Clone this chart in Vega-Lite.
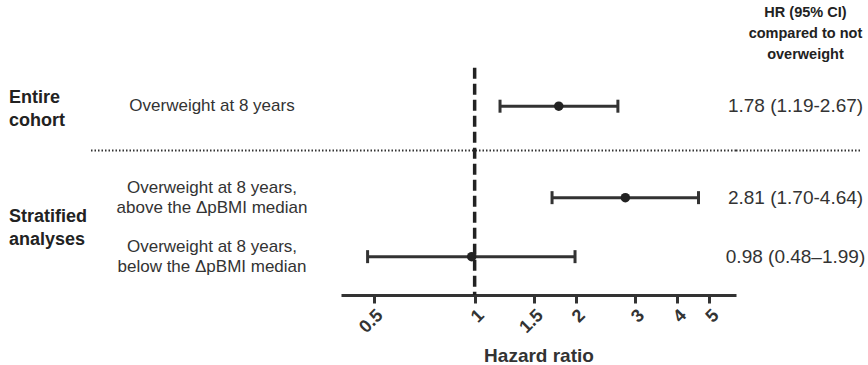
{
  "$schema": "https://vega.github.io/schema/vega-lite/v6.json",
  "padding": {"left": 0, "top": 0, "right": 8, "bottom": 0},
  "autosize": {"type": "pad"},
  "spacing": 0,
  "bounds": "flush",
  "config": {
    "view": {"stroke": null},
    "font": "Liberation Sans",
    "text": {"font": "Liberation Sans", "color": "#333"}
  },
  "datasets": {
    "rows": [
      {"label": "Overweight at 8 years", "hr": 1.78, "lo": 1.19, "hi": 2.67, "txt": "1.78 (1.19-2.67)", "pos": 3.6},
      {"label": ["Overweight at 8 years,", "above the ΔpBMI median"], "hr": 2.81, "lo": 1.70, "hi": 4.64, "txt": "2.81 (1.70-4.64)", "pos": 6.7},
      {"label": ["Overweight at 8 years,", "below the ΔpBMI median"], "hr": 0.98, "lo": 0.48, "hi": 1.99, "txt": "0.98 (0.48–1.99)", "pos": 8.7}
    ],
    "groups": [
      {"group": ["Entire", "cohort"], "pos": 3.72},
      {"group": ["Stratified", "analyses"], "pos": 7.74}
    ],
    "divider": [{"pos": 5.1}],
    "ref": [{"x": 1, "y0": 2.3, "y1": 10}],
    "header": [{"text": ["HR (95% CI)", "compared to not", "overweight"], "pos": 0.2}]
  },
  "hconcat": [
    {
      "width": 90,
      "height": 295,
      "data": {"name": "groups"},
      "mark": {"type": "text", "align": "left", "baseline": "middle", "fontSize": 18, "fontWeight": "bold", "lineHeight": 23, "dy": -11.5, "color": "#222"},
      "encoding": {
        "x": {"datum": 0.1, "type": "quantitative", "scale": {"domain": [0, 1]}, "axis": null},
        "y": {"field": "pos", "type": "quantitative", "scale": {"domain": [0, 10], "reverse": true, "nice": false}, "axis": null},
        "text": {"field": "group"}
      }
    },
    {
      "width": 251,
      "height": 295,
      "encoding": {
        "y": {"field": "pos", "type": "quantitative", "scale": {"domain": [0, 10], "reverse": true, "nice": false}, "axis": null}
      },
      "layer": [
        {
          "data": {"name": "divider"},
          "mark": {"type": "rule", "strokeDash": [1.5, 2], "strokeWidth": 2, "color": "#333"},
          "encoding": {}
        },
        {
          "data": {"name": "rows"},
          "transform": [{"filter": "!isArray(datum.label)"}],
          "mark": {"type": "text", "align": "center", "baseline": "middle", "fontSize": 17},
          "encoding": {
            "x": {"datum": 0.486, "type": "quantitative", "scale": {"domain": [0, 1]}, "axis": null},
            "text": {"field": "label"}
          }
        },
        {
          "data": {"name": "rows"},
          "transform": [{"filter": "isArray(datum.label)"}],
          "mark": {"type": "text", "align": "center", "baseline": "middle", "fontSize": 17, "lineHeight": 20, "dy": -10},
          "encoding": {
            "x": {"datum": 0.486, "type": "quantitative", "scale": {"domain": [0, 1]}, "axis": null},
            "text": {"field": "label"}
          }
        }
      ]
    },
    {
      "width": 395,
      "height": 295,
      "encoding": {
        "y": {"field": "pos", "type": "quantitative", "scale": {"domain": [0, 10], "reverse": true, "nice": false}, "axis": null}
      },
      "layer": [
        {
          "data": {"name": "divider"},
          "mark": {"type": "rule", "strokeDash": [1.5, 2], "strokeWidth": 2, "color": "#333"},
          "encoding": {}
        },
        {
          "data": {"name": "ref"},
          "mark": {"type": "rule", "strokeDash": [11, 5], "strokeWidth": 3.5, "color": "#222"},
          "encoding": {
            "x": {"field": "x", "type": "quantitative"},
            "y": {"field": "y0", "type": "quantitative"},
            "y2": {"field": "y1"}
          }
        },
        {
          "data": {"name": "rows"},
          "mark": {"type": "rule", "strokeWidth": 3, "color": "#333"},
          "encoding": {
            "x": {"field": "lo", "type": "quantitative"},
            "x2": {"field": "hi"}
          }
        },
        {
          "data": {"name": "rows"},
          "mark": {"type": "tick", "orient": "vertical", "thickness": 3, "size": 13, "color": "#333", "opacity": 1},
          "encoding": {
            "x": {"field": "lo", "type": "quantitative"}
          }
        },
        {
          "data": {"name": "rows"},
          "mark": {"type": "tick", "orient": "vertical", "thickness": 3, "size": 13, "color": "#333", "opacity": 1},
          "encoding": {
            "x": {"field": "hi", "type": "quantitative"}
          }
        },
        {
          "data": {"name": "rows"},
          "mark": {"type": "point", "shape": "circle", "filled": true, "size": 90, "color": "#222", "opacity": 1},
          "encoding": {
            "x": {
              "field": "hr",
              "type": "quantitative",
              "scale": {"type": "log", "domain": [0.4, 6], "nice": false},
              "axis": {
                "values": [0.5, 1, 1.5, 2, 3, 4, 5],
                "labelExpr": "datum.value",
                "grid": false,
                "domainWidth": 3,
                "domainColor": "#333",
                "tickWidth": 3,
                "tickSize": 8,
                "tickColor": "#333",
                "labelAngle": -45,
                "labelFontSize": 18,
                "labelFontWeight": "bold",
                "labelColor": "#333",
                "labelPadding": 3,
                "labelFlush": false,
                "labelOverlap": false,
                "title": "Hazard ratio",
                "titleFontSize": 19,
                "titleFontWeight": "bold",
                "titleColor": "#333",
                "titlePadding": 10
              }
            }
          }
        }
      ]
    },
    {
      "width": 124,
      "height": 295,
      "encoding": {
        "y": {"field": "pos", "type": "quantitative", "scale": {"domain": [0, 10], "reverse": true, "nice": false}, "axis": null}
      },
      "layer": [
        {
          "data": {"name": "divider"},
          "mark": {"type": "rule", "strokeDash": [1.5, 2], "strokeWidth": 2, "color": "#333"},
          "encoding": {}
        },
        {
          "data": {"name": "rows"},
          "mark": {"type": "text", "align": "center", "baseline": "middle", "fontSize": 19},
          "encoding": {
            "x": {"datum": 0.48, "type": "quantitative", "scale": {"domain": [0, 1]}, "axis": null},
            "text": {"field": "txt"}
          }
        },
        {
          "data": {"name": "header"},
          "mark": {"type": "text", "align": "center", "baseline": "top", "fontSize": 14.5, "fontWeight": "bold", "lineHeight": 21, "color": "#222"},
          "encoding": {
            "x": {"datum": 0.56, "type": "quantitative", "scale": {"domain": [0, 1]}, "axis": null},
            "text": {"field": "text"}
          }
        }
      ]
    }
  ]
}
